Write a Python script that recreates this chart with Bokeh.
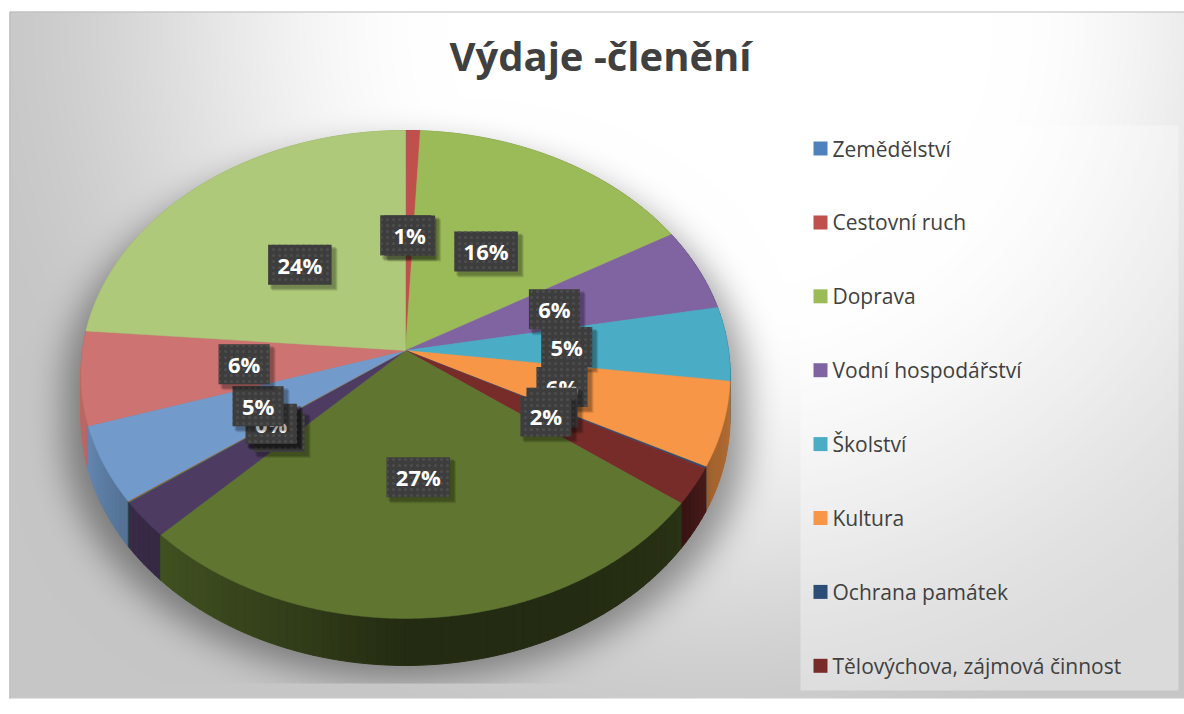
import numpy as np
from bokeh.plotting import figure
from bokeh.models import Range1d
from bokeh.embed import file_html
from bokeh.resources import INLINE
from bokeh.core.properties import value

# ---------------- data ----------------
title_text = "Výdaje -členění"
legend_categories = ["Zemědělství", "Cestovní ruch", "Doprava", "Vodní hospodářství",
                     "Školství", "Kultura", "Ochrana památek", "Tělovýchova, zájmová činnost"]
# 15 slices in the pie (only the first 8 are named in the legend), shares in %
values = [0.05, 0.75, 15.8, 5.5, 4.9, 5.6, 0.1, 2.45, 27.3, 2.45, 0.05, 0.05, 5.1, 6.2, 23.7]
colors = ["#4F81BD", "#C0504D", "#9BBB59", "#8064A2", "#4BACC6", "#F79646", "#2C4D75",
          "#772C2A", "#5F7530", "#4D3B62", "#276A7C", "#B65708", "#729ACA", "#CD7371", "#AFC97A"]

# ---------------- geometry / style ----------------
W, HH = 1184, 712
X0, Y0 = 0, 0
CX, CY = 405.0, 350.0
SX, SY = 323.0, 241.6
A = 0.0983
DEPTH = 42.4
FONT = "Open Sans"
TXT = "#404040"


def proj(X, Y, z=0.0):
    s = 1.0 / (1.0 + A * Y)
    return CX + SX * X * s, CY - SY * Y * s + z * DEPTH * s


def hex2rgb(h):
    h = h.lstrip("#")
    return np.array([int(h[i:i + 2], 16) for i in (0, 2, 4)], dtype=float)


def rgb2hex(c):
    c = np.clip(np.round(c), 0, 255).astype(int)
    return "#%02x%02x%02x" % tuple(c)


def side_factor(deg):
    d = deg % 360
    return float(np.interp(d, [0, 80, 100, 115, 128, 150, 180, 195, 215, 235, 255, 280, 360],
                           [0.9, 0.75, 0.72, 0.66, 0.42, 0.37, 0.37, 0.5, 0.63, 0.74, 0.9, 0.93, 0.9]))


p = figure(width=W, height=HH, output_backend="svg", toolbar_location=None,
           x_range=Range1d(X0, X0 + W), y_range=Range1d(-(Y0 + HH), -Y0),
           min_border=0)
p.axis.visible = False
p.grid.visible = False
p.outline_line_color = None
p.background_fill_color = "white"
p.border_fill_color = "white"

# ---------------- background with soft shadow ----------------
xs = np.arange(W) + X0 + 0.5
ys = np.arange(HH) + Y0 + 0.5
PX, PY = np.meshgrid(xs, ys)
d = np.sqrt((PX - 720) ** 2 + (PY - 20) ** 2) / 780.0
t = np.clip((d - 0.35) / 0.65, 0, 1)
g = 255 - 57 * (t * t * (3 - 2 * t))


def inside(px, py):
    u = (px - CX) / SX
    v = -(py - CY) / SY
    Y = v / (1 - A * v)
    X = u * (1 + A * Y)
    return X * X + Y * Y <= 1.0


mask = np.zeros_like(g)
for z in np.linspace(0, 1, 12):
    mask = np.maximum(mask, inside(CX + (PX - CX) / 1.05, PY - 16 - z * 45).astype(float))


def box_blur(a, r, axis):
    pad = [(0, 0), (0, 0)]
    pad[axis] = (r + 1, r)
    b = np.pad(a, pad, mode="edge")
    c = np.cumsum(b, axis=axis)
    n = a.shape[axis]
    if axis == 0:
        return (c[2 * r + 1:2 * r + 1 + n] - c[:n]) / (2 * r + 1)
    return (c[:, 2 * r + 1:2 * r + 1 + n] - c[:, :n]) / (2 * r + 1)


for _ in range(3):
    mask = box_blur(mask, 16, 0)
    mask = box_blur(mask, 16, 1)
mask[PY > 683] = 0
g = g * (1 - 0.38 * mask)
frame = (PX >= 9) & (PY >= 11) & (PY <= 698)
g = np.where(frame, g, 255)
img = np.empty((HH, W), dtype=np.uint32)
view = img.view(dtype=np.uint8).reshape((HH, W, 4))
view[..., 0] = g
view[..., 1] = g
view[..., 2] = g
view[..., 3] = 255
p.image_rgba(image=[img[::-1]], x=X0, y=-(Y0 + HH), dw=W, dh=HH)

# frame border
p.line([9.5, 1184], [-11.5, -11.5], line_color="#bdbdbd", line_width=1.2)
p.line([9.5, 9.5], [-11.5, -698], line_color="#c0c0c0", line_width=1.5)

# ---------------- 3D pie ----------------
total = float(sum(values))
fr = np.array(values) / total
ends = np.cumsum(fr) * 360.0
starts = ends - fr * 360.0

# side walls
quads = []
for i, (a0, a1) in enumerate(zip(starts, ends)):
    n = max(1, int(np.ceil((a1 - a0) / 1.5)))
    edges = np.linspace(a0, a1, n + 1)
    base = hex2rgb(colors[i])
    for k in range(n):
        ta, tb = np.radians(edges[k]), np.radians(edges[k + 1])
        xa, ya = proj(np.sin(ta), np.cos(ta), 0)
        xb, yb = proj(np.sin(tb), np.cos(tb), 0)
        xc, yc = proj(np.sin(tb), np.cos(tb), 1)
        xd, yd = proj(np.sin(ta), np.cos(ta), 1)
        mid = 0.5 * (edges[k] + edges[k + 1])
        col = rgb2hex(base * side_factor(mid))
        quads.append((np.cos(np.radians(mid)), [xa, xb, xc, xd], [-ya, -yb, -yc, -yd], col))
quads.sort(key=lambda q: -q[0])
p.patches([q[1] for q in quads], [q[2] for q in quads], fill_color=[q[3] for q in quads],
          line_color=[q[3] for q in quads], line_width=1.0)

# top faces
txs, tys = [], []
for a0, a1 in zip(starts, ends):
    th = np.radians(np.linspace(a0, a1, max(2, int((a1 - a0) * 2) + 2)))
    px, py = proj(np.sin(th), np.cos(th), 0)
    txs.append(np.concatenate([[CX], px]))
    tys.append(-np.concatenate([[CY], py]))
p.patches(txs, tys, fill_color=colors, line_color=colors, line_width=0.5)

# data labels
for i, (a0, a1) in enumerate(zip(starts, ends)):
    m = np.radians(0.5 * (a0 + a1))
    lx, ly = proj(0.5 * np.sin(m), 0.5 * np.cos(m), 0)
    lab = "%d%%" % int(fr[i] * 100 + 0.5)
    bw = 26 + 12.5 * len(lab)
    bh = 40
    for off, al in ((5, 0.10), (4, 0.12), (3, 0.14)):
        p.rect(x=lx + off, y=-(ly + off), width=bw + 2, height=bh + 2, fill_color="black",
               fill_alpha=al, line_color=None)
    p.rect(x=lx, y=-ly, width=bw, height=bh, fill_color="#3d3d3d", line_color=None,
           hatch_pattern="dot", hatch_color="#4d4d4d", hatch_scale=6, hatch_weight=1)
    p.text(x=[lx], y=[-ly], text=[lab], text_align="center", text_baseline="middle",
           text_font=value(FONT), text_font_style="bold", text_font_size="22px",
           text_color="white")

# title
p.text(x=[600], y=[-55], text=[title_text], text_align="center", text_baseline="middle",
       text_font=value(FONT), text_font_style="bold", text_font_size="40px", text_color=TXT)

# legend
p.quad(left=800, right=1178, top=-125, bottom=-690, fill_color="white", fill_alpha=0.35,
       line_color=None)
ly0, dy = 148.0, 73.9
for i, name in enumerate(legend_categories):
    yy = ly0 + i * dy
    p.rect(x=820, y=-yy, width=14, height=14, fill_color=colors[i], line_color=None)
    p.text(x=[832], y=[-yy], text=[name], text_align="left", text_baseline="middle",
           text_font=value(FONT), text_font_size="21px", text_color=TXT)

open("out.html", "w").write(file_html(p, INLINE))
